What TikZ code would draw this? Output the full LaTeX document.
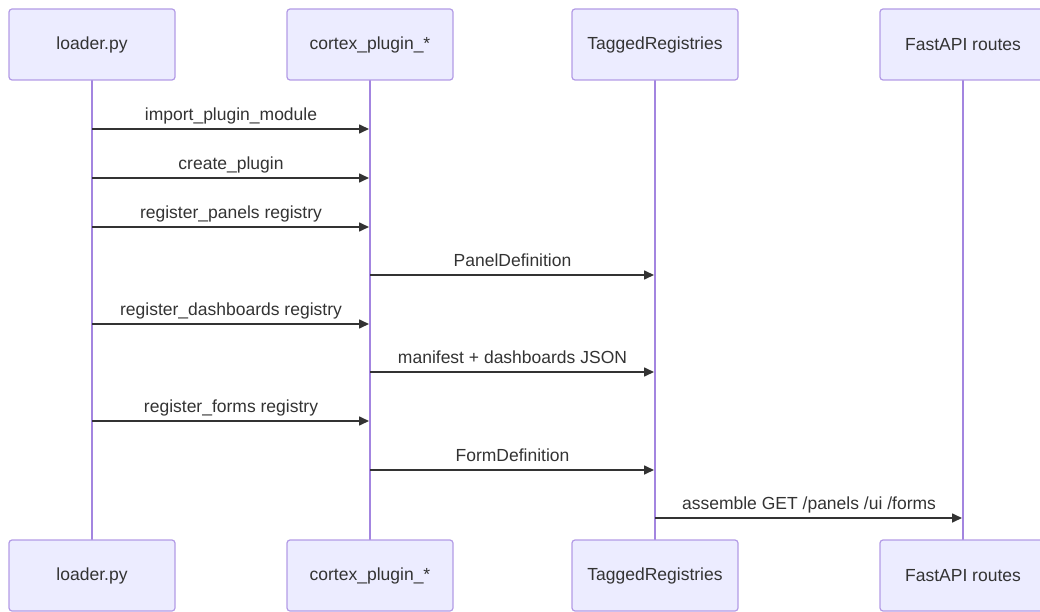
\documentclass[tikz,border=0pt]{standalone}
\usepackage{fontspec}
\setmainfont{Liberation Sans}
\usetikzlibrary{arrows.meta}
\definecolor{actorfill}{HTML}{ECECFF}
\definecolor{actorline}{HTML}{9370DB}
\definecolor{lifeline}{HTML}{9370DB}
\definecolor{msgline}{HTML}{333333}
\definecolor{txt}{HTML}{333333}
\tikzset{
  actor/.style={draw=actorline!70, fill=actorfill, rounded corners=3pt, line width=1.2pt,
    minimum width=166pt, minimum height=71pt, inner sep=0pt, font=\fontsize{17.5}{20}\selectfont, text=txt},
  life/.style={draw=lifeline!85, line width=1.8pt},
  msg/.style={draw=msgline, line width=1.6pt, -{Triangle[length=10pt,width=9pt]}, shorten >=1pt},
  msglabel/.style={font=\fontsize{17.5}{20}\selectfont, text=txt, anchor=base, inner sep=0pt, yshift=8.5pt}
}
\begin{document}
\begin{tikzpicture}[x=1pt,y=-1pt]
\useasboundingbox (0,0) rectangle (1040,612);
% participants, top and bottom
\foreach \n/\x/\t in {L/92/loader.py, C/370/cortex\_plugin\_*, T/655/TaggedRegistries, F/963/FastAPI routes}{
  \draw[life] (\x,80) -- (\x,541);
  \node[actor] (\n top) at (\x,44.5) {\t};
  \node[actor] (\n bot) at (\x,575.5) {\t};
}
% lifeline anchor points for each message row
\foreach \n/\x in {L/92, C/370, T/655, F/963}{
  \foreach \r/\y in {1/129, 2/178, 3/227, 4/275, 5/324, 6/372, 7/421, 8/470, 9/518}{
    \coordinate (\n\r) at (\x,\y);
  }
}
\draw[msg] (L1) -- node[msglabel] {import\_plugin\_module} (C1);
\draw[msg] (L2) -- node[msglabel] {create\_plugin} (C2);
\draw[msg] (L3) -- node[msglabel] {register\_panels registry} (C3);
\draw[msg] (C4) -- node[msglabel] {PanelDefinition} (T4);
\draw[msg] (L5) -- node[msglabel] {register\_dashboards registry} (C5);
\draw[msg] (C6) -- node[msglabel] {manifest + dashboards JSON} (T6);
\draw[msg] (L7) -- node[msglabel] {register\_forms registry} (C7);
\draw[msg] (C8) -- node[msglabel] {FormDefinition} (T8);
\draw[msg] (T9) -- node[msglabel] {assemble GET /panels /ui /forms} (F9);
\end{tikzpicture}
\end{document}
